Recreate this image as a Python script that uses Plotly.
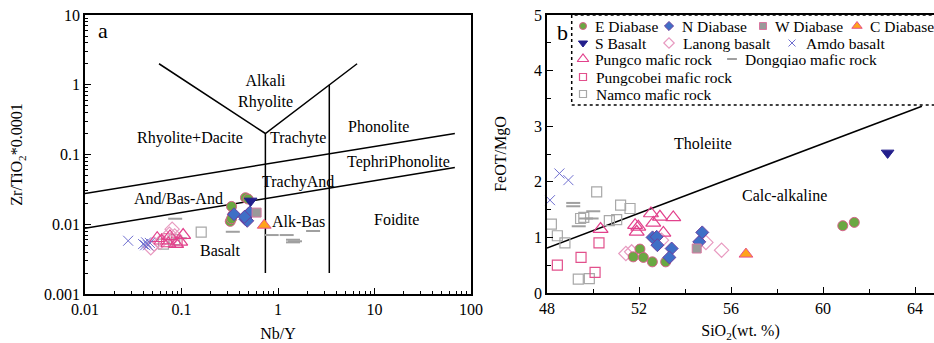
import math
import plotly.graph_objects as go

W, H = 934, 343

# ---------------- data: panel a (Nb/Y vs Zr/TiO2*0.0001) ----------------
a_E_x = [0.33, 0.46, 0.32, 0.34, 0.49, 0.33]
a_E_y = [0.018, 0.024, 0.011, 0.0135, 0.023, 0.012]
a_N_x = [0.35, 0.46, 0.49, 0.51, 0.48, 0.45]
a_N_y = [0.0139, 0.0118, 0.0139, 0.0147, 0.0112, 0.0128]
a_W_x = [0.60]
a_W_y = [0.0147]
a_C_x = [0.72]
a_C_y = [0.0097]
a_S_x = [0.52]
a_S_y = [0.0216]
a_Lan_x = [0.080, 0.048, 0.052, 0.075, 0.085, 0.060]
a_Lan_y = [0.0085, 0.0046, 0.0052, 0.0072, 0.0068, 0.0055]
a_Amdo_x = [0.028, 0.040, 0.043, 0.045, 0.047, 0.042]
a_Amdo_y = [0.0058, 0.0052, 0.0055, 0.0050, 0.0054, 0.0050]
a_Pco_x = [0.056, 0.076, 0.104, 0.088, 0.073, 0.097, 0.062]
a_Pco_y = [0.0063, 0.0067, 0.0070, 0.0052, 0.0053, 0.0056, 0.0058]
a_Dq_x = [0.086, 0.34, 0.86, 1.23, 2.31, 1.43, 1.43, 1.50, 0.096]
a_Dq_y = [0.012, 0.0078, 0.0070, 0.0070, 0.0080, 0.0060, 0.0055, 0.0057, 0.0063]
a_Pcb_x = [0.09, 0.07]
a_Pcb_y = [0.0055, 0.0062]
a_Nam_x = [0.16, 0.085, 0.065]
a_Nam_y = [0.0077, 0.0060, 0.0052]

# ---------------- data: panel b (SiO2 vs FeOT/MgO) ----------------
b_E_x = [51.75, 52.04, 52.19, 52.58, 53.16, 60.86, 61.36]
b_E_y = [0.65, 0.79, 0.64, 0.56, 0.56, 1.21, 1.27]
b_N_x = [52.59, 52.77, 52.80, 53.42, 53.32, 54.62, 54.75]
b_N_y = [1.00, 1.01, 0.86, 0.80, 0.64, 0.92, 1.09]
b_W_x = [54.51]
b_W_y = [0.80]
b_C_x = [56.65]
b_C_y = [0.70]
b_S_x = [62.81]
b_S_y = [2.52]
b_Lan_x = [51.43, 51.68, 54.91, 55.59, 52.98]
b_Lan_y = [0.71, 0.74, 0.91, 0.77, 0.95]
b_Amdo_x = [47.87, 47.93, 48.13, 48.54, 48.93]
b_Amdo_y = [1.98, 2.00, 1.67, 2.15, 2.03]
b_Pco_x = [52.52, 52.91, 53.49, 52.62, 51.83, 51.97, 51.90, 53.06, 50.33]
b_Pco_y = [1.43, 1.37, 1.36, 1.26, 1.22, 1.19, 1.10, 1.08, 1.15]
b_Dq_x = [49.14, 49.14, 49.38, 50.01, 49.94, 49.70]
b_Dq_y = [1.62, 1.56, 1.20, 1.47, 1.34, 1.34]
b_Pcb_x = [48.45, 49.48, 50.26, 50.09]
b_Pcb_y = [0.50, 0.64, 0.90, 0.37]
b_Nam_x = [48.19, 48.45, 48.78, 49.46, 50.16, 50.71, 51.03, 51.20, 51.61, 49.36, 49.84, 49.60]
b_Nam_y = [1.24, 1.03, 0.90, 1.34, 1.82, 1.30, 1.32, 1.58, 1.52, 0.25, 0.26, 1.36]

# classification boundaries (panel a)
bnd_a = [
    ([0.01, 68], [0.0277, 0.20]),
    ([0.01, 68], [0.00877, 0.065]),
    ([0.0585, 0.74, 6.6], [2.0, 0.20, 2.0]),
    ([0.74, 0.74], [0.20, 0.002]),
    ([3.4, 3.4], [1.0, 0.002]),
]
# Miyashiro tholeiite / calc-alkaline line (panel b)
bnd_b_x = [48.0, 64.3]
bnd_b_y = [0.81, 3.36]

series = ["E Diabase", "N Diabase", "W Diabase", "C Diabase", "S Basalt",
          "Lanong basalt", "Amdo basalt", "Pungco mafic rock",
          "Dongqiao mafic rock", "Pungcobei mafic rock", "Namco mafic rock"]

styles = {
    "E Diabase": dict(symbol="circle", size=10, color="#6aa842", line=dict(color="#d8608a", width=1)),
    "N Diabase": dict(symbol="diamond", size=10, color="#3f6fc6", line=dict(color="#6a3fa0", width=1)),
    "W Diabase": dict(symbol="square", size=9, color="#9a9a9a", line=dict(color="#d878a0", width=1)),
    "C Diabase": dict(symbol="triangle-up", size=12, color="#ffa31a", line=dict(color="#e8508a", width=1)),
    "S Basalt": dict(symbol="triangle-down", size=11, color="#231f8c", line=dict(color="#231f8c", width=1)),
    "Lanong basalt": dict(symbol="diamond-open", size=11, color="#e89ac0", line=dict(color="#e89ac0", width=1.2)),
    "Amdo basalt": dict(symbol="x-thin-open", size=10, color="#6f6fd0", line=dict(color="#6f6fd0", width=1)),
    "Pungco mafic rock": dict(symbol="triangle-up-open", size=13, color="#e2418c", line=dict(color="#e2418c", width=1.2)),
    "Dongqiao mafic rock": dict(symbol="line-ew-open", size=10, color="#a0a0a0", line=dict(color="#a0a0a0", width=2)),
    "Pungcobei mafic rock": dict(symbol="square-open", size=10, color="#e2508c", line=dict(color="#e2508c", width=1.2)),
    "Namco mafic rock": dict(symbol="square-open", size=10, color="#a8a8a8", line=dict(color="#a8a8a8", width=1.2)),
}

a_data = {
    "Namco mafic rock": (a_Nam_x, a_Nam_y),
    "Dongqiao mafic rock": (a_Dq_x, a_Dq_y),
    "Pungcobei mafic rock": (a_Pcb_x, a_Pcb_y),
    "Lanong basalt": (a_Lan_x, a_Lan_y),
    "Pungco mafic rock": (a_Pco_x, a_Pco_y),
    "Amdo basalt": (a_Amdo_x, a_Amdo_y),
    "E Diabase": (a_E_x, a_E_y),
    "N Diabase": (a_N_x, a_N_y),
    "W Diabase": (a_W_x, a_W_y),
    "C Diabase": (a_C_x, a_C_y),
    "S Basalt": (a_S_x, a_S_y),
}
b_data = {
    "Namco mafic rock": (b_Nam_x, b_Nam_y),
    "Dongqiao mafic rock": (b_Dq_x, b_Dq_y),
    "Pungcobei mafic rock": (b_Pcb_x, b_Pcb_y),
    "Lanong basalt": (b_Lan_x, b_Lan_y),
    "Pungco mafic rock": (b_Pco_x, b_Pco_y),
    "Amdo basalt": (b_Amdo_x, b_Amdo_y),
    "E Diabase": (b_E_x, b_E_y),
    "N Diabase": (b_N_x, b_N_y),
    "W Diabase": (b_W_x, b_W_y),
    "C Diabase": (b_C_x, b_C_y),
    "S Basalt": (b_S_x, b_S_y),
}

FONT = "Liberation Serif, Times New Roman, serif"
fig = go.Figure()

for xs, ys in bnd_a:
    fig.add_trace(go.Scatter(x=xs, y=ys, mode="lines", line=dict(color="black", width=1.5),
                             showlegend=False, hoverinfo="skip", xaxis="x", yaxis="y"))
fig.add_trace(go.Scatter(x=bnd_b_x, y=bnd_b_y, mode="lines", line=dict(color="black", width=1.5),
                         showlegend=False, hoverinfo="skip", xaxis="x2", yaxis="y2"))

for name, (xs, ys) in a_data.items():
    fig.add_trace(go.Scatter(x=xs, y=ys, mode="markers", name=name, marker=styles[name],
                             showlegend=False, xaxis="x", yaxis="y"))
for name, (xs, ys) in b_data.items():
    fig.add_trace(go.Scatter(x=xs, y=ys, mode="markers", name=name, marker=styles[name],
                             showlegend=False, xaxis="x2", yaxis="y2", cliponaxis=False))

# legend glyphs (pixel layout of the legend box, on a hidden full-figure axis)
leg_pos = {
    "E Diabase": (583, 26, 594), "N Diabase": (669, 26, 681), "W Diabase": (763, 26, 774),
    "C Diabase": (857, 26, 869), "S Basalt": (583, 43, 594), "Lanong basalt": (669, 43, 682),
    "Amdo basalt": (792, 43, 805), "Pungco mafic rock": (583, 59, 594),
    "Dongqiao mafic rock": (732, 59, 744), "Pungcobei mafic rock": (583, 77, 595),
    "Namco mafic rock": (583, 94, 595),
}
annotations = []
for name in series:
    gx, gy, tx = leg_pos[name]
    st = dict(styles[name])
    st["size"] = max(7, st["size"] - 3)
    fig.add_trace(go.Scatter(x=[gx], y=[gy], mode="markers", marker=st, showlegend=False,
                             hoverinfo="skip", xaxis="x3", yaxis="y3", cliponaxis=False))
    annotations.append(dict(x=tx, y=gy, xref="x3", yref="y3", text=name, showarrow=False,
                            xanchor="left", yanchor="middle", borderpad=0,
                            font=dict(family=FONT, size=15.5, color="black")))

L = math.log10
a_labels = [
    ("Alkali<br>Rhyolite", 0.75, 0.80),
    ("Rhyolite+Dacite", 0.122, 0.175),
    ("Trachyte", 1.61, 0.175),
    ("Phonolite", 10.9, 0.25),
    ("TephriPhonolite", 17.9, 0.079),
    ("TrachyAnd", 1.61, 0.040),
    ("And/Bas-And", 0.092, 0.0235),
    ("Alk-Bas", 1.65, 0.011),
    ("Foidite", 17.1, 0.0118),
    ("Basalt", 0.256, 0.00425),
]
for t, x, y in a_labels:
    annotations.append(dict(x=L(x), y=L(y), xref="x", yref="y", text=t, showarrow=False,
                            font=dict(family=FONT, size=16, color="black")))
annotations.append(dict(x=L(0.0154), y=L(5.9), xref="x", yref="y", text="a", showarrow=False,
                        font=dict(family=FONT, size=22, color="black")))
annotations.append(dict(x=562.7, y=32, xref="x3", yref="y3", text="b", showarrow=False,
                        font=dict(family=FONT, size=22, color="black")))
annotations.append(dict(x=54.77, y=2.69, xref="x2", yref="y2", text="Tholeiite", showarrow=False,
                        font=dict(family=FONT, size=16, color="black")))
annotations.append(dict(x=58.32, y=1.76, xref="x2", yref="y2", text="Calc-alkaline", showarrow=False,
                        font=dict(family=FONT, size=16, color="black")))

ax_common = dict(showline=True, linecolor="black", linewidth=1.5, ticks="inside", tickcolor="black",
                 ticklen=6, tickwidth=1, showgrid=False, zeroline=False, automargin=False,
                 tickfont=dict(family=FONT, size=16, color="black"),
                 title_font=dict(family=FONT, size=16, color="black"))

fig.update_layout(
    width=W, height=H, margin=dict(l=0, r=0, t=0, b=0, autoexpand=False),
    paper_bgcolor="white", plot_bgcolor="rgba(0,0,0,0)",
    annotations=annotations,
    xaxis=dict(**ax_common, type="log", range=[-2, 2], domain=[85 / W, 471 / W], anchor="y", mirror=True,
               tickvals=[0.01, 0.1, 1, 10, 100], ticktext=["0.01", "0.1", "1", "10", "100"],
               minor=dict(ticks="inside", ticklen=3, tickcolor="black", dtick="D1", showgrid=False),
               title=dict(text="Nb/Y", standoff=11)),
    yaxis=dict(**ax_common, type="log", range=[-3, 1], domain=[1 - 294 / H, 1 - 15 / H], anchor="x", mirror=True,
               tickvals=[0.001, 0.01, 0.1, 1, 10], ticktext=["0.001", "0.01", "0.1", "1", "10"],
               minor=dict(ticks="inside", ticklen=3, tickcolor="black", dtick="D1", showgrid=False),
               title=dict(text="Zr/TiO<sub>2</sub>*0.0001", standoff=17)),
    xaxis2=dict(**ax_common, range=[48, 48 + (W - 547) / 23.0], domain=[547 / W, 1], anchor="y2", mirror=True,
                tick0=48, dtick=4, minor=dict(ticks="inside", ticklen=4, tickcolor="black", dtick=2, showgrid=False),
                title=dict(text="SiO<sub>2</sub>(wt. %)", standoff=9)),
    yaxis2=dict(**ax_common, range=[0, 5], domain=[1 - 293 / H, 1 - 15 / H], anchor="x2",
                tick0=0, dtick=1, minor=dict(ticks="inside", ticklen=4, tickcolor="black", dtick=0.5, showgrid=False),
                title=dict(text="FeOT/MgO", standoff=23)),
    xaxis3=dict(range=[0, W], domain=[0, 1], visible=False, anchor="y3", fixedrange=True),
    yaxis3=dict(range=[H, 0], domain=[0, 1], visible=False, anchor="x3", fixedrange=True),
    shapes=[dict(type="rect", xref="paper", yref="paper", x0=571.7 / W, x1=1.02,
                 y0=1 - 105 / H, y1=1 - 15 / H, line=dict(color="black", width=1.5, dash="dot"))],
)

fig.write_html("out.html", config={"displayModeBar": False},
               post_script="document.body.style.margin='0';document.body.style.overflow='hidden';")
